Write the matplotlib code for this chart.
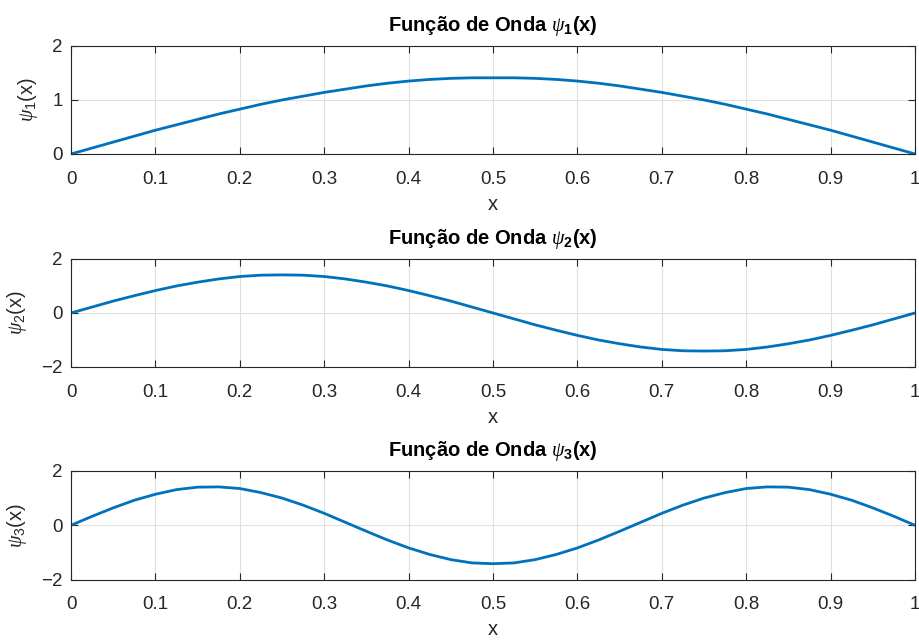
import numpy as np
import matplotlib.pyplot as plt

plt.rcParams['font.family'] = ['Liberation Sans', 'DejaVu Sans']
plt.rcParams['mathtext.fontset'] = 'custom'
plt.rcParams['mathtext.it'] = 'Liberation Serif:italic'
plt.rcParams['mathtext.rm'] = 'Liberation Sans'
plt.rcParams['mathtext.bf'] = 'Liberation Sans:bold'

# sampled x positions (0 to 1, step 0.025)
x = np.linspace(0, 1, 41)

# values
psi1 = [0, 0.11, 0.22, 0.33, 0.44, 0.54, 0.64, 0.74, 0.83, 0.92, 1.00, 1.07, 1.14, 1.20,
        1.26, 1.31, 1.35, 1.38, 1.40, 1.41, 1.41, 1.41, 1.40, 1.38, 1.35, 1.31, 1.26, 1.20,
        1.14, 1.07, 1.00, 0.92, 0.83, 0.74, 0.64, 0.54, 0.44, 0.33, 0.22, 0.11, 0]
psi2 = [0, 0.22, 0.44, 0.64, 0.83, 1.00, 1.14, 1.26, 1.35, 1.40, 1.41, 1.40, 1.35, 1.26,
        1.14, 1.00, 0.83, 0.64, 0.44, 0.22, 0, -0.22, -0.44, -0.64, -0.83, -1.00, -1.14,
        -1.26, -1.35, -1.40, -1.41, -1.40, -1.35, -1.26, -1.14, -1.00, -0.83, -0.64, -0.44,
        -0.22, 0]
psi3 = [0, 0.33, 0.64, 0.92, 1.14, 1.31, 1.40, 1.41, 1.35, 1.20, 1.00, 0.74, 0.44, 0.11,
        -0.22, -0.54, -0.83, -1.07, -1.26, -1.38, -1.41, -1.38, -1.26, -1.07, -0.83, -0.54,
        -0.22, 0.11, 0.44, 0.74, 1.00, 1.20, 1.35, 1.41, 1.40, 1.31, 1.14, 0.92, 0.64, 0.33, 0]

series = [psi1, psi2, psi3]
yticks = [[0, 1, 2], [-2, 0, 2], [-2, 0, 2]]
ylims = [(0, 2), (-2, 2), (-2, 2)]
xticks = [0, 0.1, 0.2, 0.3, 0.4, 0.5, 0.6, 0.7, 0.8, 0.9, 1]
xticklabels = ['0', '0.1', '0.2', '0.3', '0.4', '0.5', '0.6', '0.7', '0.8', '0.9', '1']

fig = plt.figure(figsize=(9.2, 6.41), dpi=100)
boxes = [[0.0772, 0.7598, 0.9174, 0.1685],
         [0.0772, 0.4275, 0.9174, 0.1685],
         [0.0772, 0.0955, 0.9174, 0.1700]]
dark = '#262626'

for i in range(3):
    ax = fig.add_axes(boxes[i])
    ax.plot(x, series[i], color='#0072BD', lw=2.0)
    ax.set_xlim(0, 1)
    ax.set_ylim(*ylims[i])
    ax.set_xticks(xticks)
    ax.set_xticklabels(xticklabels)
    ax.set_yticks(yticks[i])
    ax.grid(True, color='#e0e0e0', lw=0.8)
    ax.set_axisbelow(True)
    ax.tick_params(direction='in', top=True, right=True, length=5, width=0.8,
                   colors=dark, labelsize=13.5)
    ax.tick_params(axis='x', pad=12)
    ax.tick_params(axis='y', pad=6)
    for s in ax.spines.values():
        s.set_color(dark)
        s.set_linewidth(0.8)
    n = i + 1
    ax.set_title(r'Função de Onda $\psi_{\mathbf{%d}}$(x)' % n, fontsize=14.5,
                 fontweight='bold', pad=11)
    ax.set_xlabel('x', fontsize=14.5, color=dark, labelpad=5)
    ax.set_ylabel(r'$\psi_{\mathrm{%d}}$(x)' % n, fontsize=14.5, color=dark, labelpad=9)

fig.savefig('out.png', dpi=100)
